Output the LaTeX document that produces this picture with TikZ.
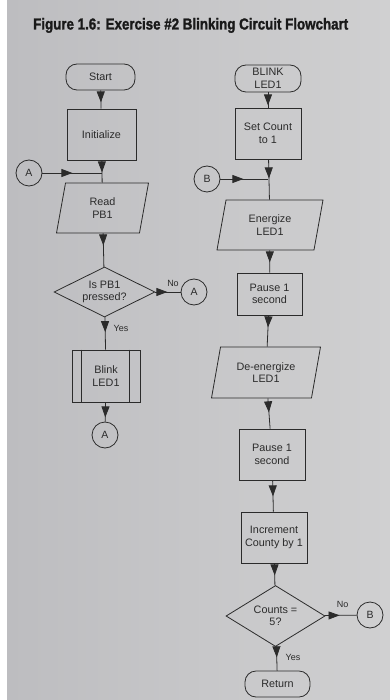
\documentclass[tikz,border=0pt]{standalone}
\usepackage{graphicx}
\usepackage{fontspec}
\setmainfont{Liberation Sans}
\newfontfamily\titlefont{Liberation Sans}[BoldFeatures={FakeBold=1.6}]
\usetikzlibrary{shapes.geometric,arrows.meta,decorations.markings}

\definecolor{paperL}{HTML}{BDBDC0}
\definecolor{paperR}{HTML}{D0D0D1}
\definecolor{ink}{HTML}{2B2B2B}

\tikzset{
  box/.style={draw=ink, line width=0.8pt, rectangle, minimum width=66pt,
    minimum height=51pt, align=center, text=ink,
    font=\fontsize{10.8}{12.5}\selectfont, inner sep=1pt},
  term/.style={box, rounded corners=11pt, minimum height=26pt},
  io/.style={box, trapezium, trapezium left angle=68, trapezium right angle=112,
    trapezium stretches body, minimum height=50pt},
  decision/.style={box, diamond, aspect=2, inner sep=0pt},
  conn/.style={draw=ink, line width=0.8pt, circle, minimum size=26pt,
    inner sep=0pt, text=ink, font=\fontsize{10.5}{12}\selectfont},
  lbl/.style={text=ink, font=\fontsize{9}{10}\selectfont, inner sep=0pt},
  flow/.style={draw=ink, line width=0.8pt, postaction={decorate},
    decoration={markings, mark=at position #1 with
      {\arrow[ink]{Triangle[length=11pt,width=8pt]}}}},
  flow/.default=12pt,
  sub/.style={draw=ink, line width=0.8pt},
}

\begin{document}
\begin{tikzpicture}[x=1pt,y=-1pt]
% page
\fill[white] (0,0) rectangle (390,700);
\shade[left color=paperL, right color=paperR] (7,0) rectangle (390,700);
\useasboundingbox (0,0) rectangle (390,700);

% heading
\node[anchor=base west, inner sep=0pt, text=black!90] (title) at (33,29.5)
  {\resizebox{315pt}{11.5pt}{\titlefont\bfseries Figure 1.6: Exercise \#2 Blinking Circuit Flowchart}};

% main loop
\node[term, minimum width=69pt] (start) at (100.5,77) {Start};
\node[box, minimum width=69pt] (init) at (101.5,134.5) {Initialize};
\node[io, minimum width=92pt] (read) at (102.5,208) {Read\\PB1};
\node[decision, minimum width=101pt, minimum height=50pt] (q1) at (104.5,292) {Is PB1\\pressed?};
\node[box, minimum width=68pt, minimum height=52pt] (blink) at (106,376) {Blink\\LED1};
\node[conn] (a1) at (29,173) {A};
\node[conn] (a2) at (194,292) {A};
\node[conn] (a3) at (105,435) {A};
\coordinate (j1) at (102,173);

\draw[sub] ([xshift=10pt]blink.north west) -- ([xshift=10pt]blink.south west);
\draw[sub] ([xshift=-11pt]blink.north east) -- ([xshift=-11pt]blink.south east);

\draw[flow] (start) -- (init);
\draw[flow] (init) -- (read);
\draw[flow=30pt] (a1) -- (j1);
\draw[flow] (read) -- (q1);
\draw[flow] (q1) -- (a2);
\draw[flow=15pt] (q1) -- (blink);
\draw[flow=15pt] (blink) -- (a3);
\node[lbl] (no1) at (173,283) {No};
\node[lbl] (yes1) at (121,328) {Yes};

% BLINK LED1 subroutine
\node[term, minimum width=66pt, minimum height=27pt] (bl) at (268,78.5) {BLINK\\LED1};
\node[box] (setc) at (268,133.5) {Set Count\\to 1};
\coordinate (j2) at (268,179);
\node[conn] (b1) at (207,179) {B};
\node[io, minimum width=106pt] (ener) at (270,225) {Energize\\LED1};
\node[box, minimum width=65pt, minimum height=42pt] (p1) at (269.5,294) {Pause 1\\second};
\node[io, minimum width=109pt, minimum height=51pt] (deen) at (266,372.5) {De-energize\\LED1};
\node[box] (p2) at (272,454.5) {Pause 1\\second};
\node[box] (inc) at (274,537.5) {Increment\\County by 1};
\node[decision, minimum width=99pt, minimum height=61pt] (q2) at (275.5,616) {Counts =\\5?};
\node[conn] (b2) at (370,615) {B};
\node[term, minimum width=65pt] (ret) at (277.5,684) {Return};

\draw[flow=13pt] (bl) -- (setc);
\draw[flow=19pt] (setc) -- (ener);
\draw[flow=23pt] (b1) -- (j2);
\draw[flow] (ener) -- (p1);
\draw[flow] (p1) -- (deen);
\draw[flow=14pt] (deen) -- (p2);
\draw[flow=16pt] (p2) -- (inc);
\draw[flow] (inc) -- (q2);
\draw[flow=15pt] (q2) -- (b2);
\draw[flow=11pt] (q2) -- (ret);
\node[lbl] (no2) at (342.5,604) {No};
\node[lbl] (yes2) at (293,657) {Yes};
\end{tikzpicture}
\end{document}
